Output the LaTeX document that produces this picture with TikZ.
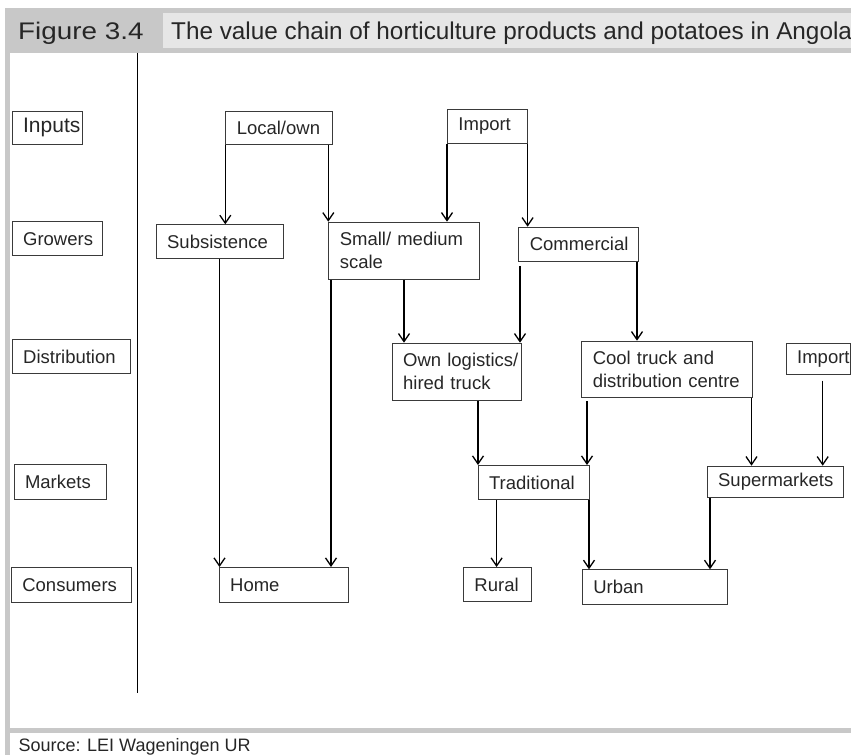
\documentclass[tikz,border=0pt]{standalone}
\usepackage{fontspec}
\setmainfont{Liberation Sans}
\newfontfamily\figfont[FakeStretch=1.16]{Liberation Sans}
\newfontfamily\ttlfont{Liberation Sans}
\usetikzlibrary{arrows.meta}
\definecolor{hdr}{HTML}{C8C8C8}
\definecolor{ttl}{HTML}{E6E6E6}
\definecolor{txt}{HTML}{262626}
\definecolor{bord}{HTML}{3A3A3A}
\begin{document}
\begin{tikzpicture}[x=1pt,y=-1pt,
  box/.style={draw=bord, line width=0.9pt, anchor=north west, inner xsep=11pt, inner ysep=0pt,
    align=left, text=txt, font=\fontsize{18.5}{23}\selectfont},
  arr/.style={draw=black, line width=1.3pt, -{Straight Barb[length=8pt,width=11pt,line width=1.3pt]}},
  hdrtext/.style={anchor=base west, inner sep=0pt, text=txt}]
\clip (0,0) rectangle (851,755);
\useasboundingbox (0,0) rectangle (851,755);
% frame
\fill[hdr] (4.5,8) rectangle (851,52.7);
\fill[ttl] (163,13.3) rectangle (851,47.5);
\fill[hdr] (4.5,52.7) rectangle (9.5,755);
\fill[hdr] (4.5,727.5) rectangle (851,733);
\node[hdrtext, font=\figfont\fontsize{24}{28}\selectfont] (fig) at (18,39.3) {Figure 3.4};
\node[hdrtext, font=\ttlfont\fontsize{24.3}{28}\selectfont] (title) at (171,39.3) {The value chain of horticulture products and potatoes in Angola};
\node[hdrtext, font=\fontsize{18}{20}\selectfont] (src) at (18.3,751.5) {Source: LEI Wageningen UR};
% separator
\draw[line width=1.8pt] (137.5,52.7) -- (137.5,693);
% stage labels
\node[box, minimum width=70pt, minimum height=33.3pt, text width=48pt, font=\fontsize{21}{24}\selectfont] (inputs) at (11.7,110.7) {Inputs};
\node[box, minimum width=90pt, minimum height=34pt, text width=68pt] (growers) at (11.7,221.3) {Growers};
\node[box, minimum width=118.3pt, minimum height=34.3pt, text width=96.3pt] (distr) at (11.7,339) {Distribution};
\node[box, minimum width=92.2pt, minimum height=34.7pt, text width=70.2pt] (markets) at (13.6,464) {Markets};
\node[box, minimum width=120.4pt, minimum height=35pt, text width=98.4pt] (consumers) at (10.9,567) {Consumers};
% chain boxes
\node[box, minimum width=107pt, minimum height=33pt, text width=85pt] (localown) at (225.3,111) {Local/own};
\node[box, minimum width=79.7pt, minimum height=33.4pt, text width=57.7pt] (import1) at (447,109.3) {Import};
\node[box, minimum width=127pt, minimum height=34pt, text width=105pt] (subs) at (155.7,224.3) {Subsistence};
\node[box, minimum width=151pt, minimum height=57.3pt, text width=129pt] (smallmed) at (328.3,221.7) {\mbox{Small/ medium}\\\mbox{scale}};
\node[box, minimum width=119.4pt, minimum height=34.3pt, text width=97.4pt] (commercial) at (518.3,226.7) {Commercial};
\node[box, minimum width=129.3pt, minimum height=57.3pt, text width=107.3pt] (ownlog) at (391.7,342.7) {\mbox{Own logistics/}\\\mbox{hired truck}};
\node[box, minimum width=170.4pt, minimum height=56.6pt, text width=148.4pt] (cool) at (581.3,340.7) {\mbox{Cool truck and}\\\mbox{distribution centre}};
\node[box, minimum width=64.3pt, minimum height=31.6pt, text width=42.3pt] (import2) at (785.7,342.7) {\mbox{Import}};
\node[box, minimum width=111.3pt, minimum height=34.3pt, text width=89.3pt] (trad) at (477.6,465) {Traditional};
\node[box, minimum width=136.6pt, minimum height=31pt, text width=114.6pt] (super) at (706.7,465.7) {Supermarkets};
\node[box, minimum width=129.7pt, minimum height=35pt, text width=107.7pt] (home) at (218.7,567) {Home};
\node[box, minimum width=67.8pt, minimum height=34pt, text width=45.8pt] (rural) at (463,567) {Rural};
\node[box, minimum width=145.5pt, minimum height=34.7pt, text width=123.5pt] (urban) at (581.8,569.3) {Urban};
% connectors
\draw[arr] (localown.south west) -- (localown.south west |- subs.north);
\draw[arr] (localown.south -| 328.3,0) -- (smallmed.north west);
\draw[arr] (import1.south west) -- (import1.south west |- smallmed.north);
\draw[arr] (import1.south east) -- (import1.south east |- commercial.north);
\draw[arr] (subs.south -| 219.5,0) -- (home.north -| 219.5,0);
\draw[arr] (smallmed.south -| 331,0) -- (home.north -| 331,0);
\draw[arr] (smallmed.south -| 404,0) -- (ownlog.north -| 404,0);
\draw[arr, shorten <=4pt] (commercial.south -| 520,0) -- (ownlog.north -| 520,0);
\draw[arr] (commercial.south -| 637,0) -- (cool.north -| 637,0);
\draw[arr] (ownlog.south -| 478,0) -- (trad.north -| 478,0);
\draw[arr, shorten <=3pt] (cool.south -| 587,0) -- (trad.north -| 587,0);
\draw[arr] (cool.south -| 751.5,0) -- (super.north -| 751.5,0);
\draw[arr, shorten <=5.5pt] (import2.south -| 822.7,0) -- (super.north -| 822.7,0);
\draw[arr] (trad.south -| 496.6,0) -- (rural.north -| 496.6,0);
\draw[arr] (trad.south -| 589,0) -- (urban.north -| 589,0);
\draw[arr] (super.south -| 710,0) -- (urban.north -| 710,0);
\end{tikzpicture}
\end{document}
